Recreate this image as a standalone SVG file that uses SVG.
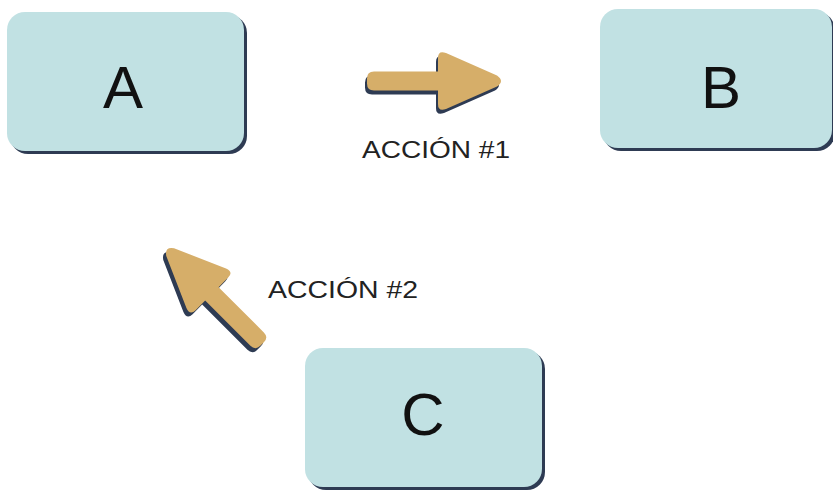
<svg xmlns="http://www.w3.org/2000/svg" width="833" height="492" viewBox="0 0 833 492">
<style>
.box{fill:#c1e1e3}
.sh{fill:#2e3b53}
.lbl{font-family:"Liberation Sans",Arial,sans-serif;font-size:60px;fill:#111;text-anchor:middle}
.act{font-family:"Liberation Sans",Arial,sans-serif;font-size:24px;fill:#222}
.arr{fill:#d6ae69}
.arrsh{fill:#2e3b53}
</style>
<rect width="833" height="492" fill="#fff"/>
<g id="connectors">
<g id="arrow1">
<path class="arrsh" transform="translate(433,85)" d="M-61,-9.5 L3,-9.5 L3,-23 Q3,-31 11,-28 L62,-5.5 Q70,0 62,5.5 L11,28 Q3,31 3,23 L3,9.5 L-61,9.5 Q-68,9.5 -68,2.5 L-68,-2.5 Q-68,-9.5 -61,-9.5 Z"/>
<path class="arr" transform="translate(435,81)" d="M-61,-9.5 L3,-9.5 L3,-23 Q3,-31 11,-28 L62,-5.5 Q70,0 62,5.5 L11,28 Q3,31 3,23 L3,9.5 L-61,9.5 Q-68,9.5 -68,2.5 L-68,-2.5 Q-68,-9.5 -61,-9.5 Z"/>
</g>
<g id="arrow2">
<path class="arrsh" transform="translate(211,300) rotate(-135)" d="M-61,-9.5 L3,-9.5 L3,-23 Q3,-31 11,-28 L62,-5.5 Q70,0 62,5.5 L11,28 Q3,31 3,23 L3,9.5 L-61,9.5 Q-68,9.5 -68,2.5 L-68,-2.5 Q-68,-9.5 -61,-9.5 Z"/>
<path class="arr" transform="translate(214,296) rotate(-135)" d="M-61,-9.5 L3,-9.5 L3,-23 Q3,-31 11,-28 L62,-5.5 Q70,0 62,5.5 L11,28 Q3,31 3,23 L3,9.5 L-61,9.5 Q-68,9.5 -68,2.5 L-68,-2.5 Q-68,-9.5 -61,-9.5 Z"/>
</g>
<text class="act" x="362" y="158" textLength="148" lengthAdjust="spacingAndGlyphs">ACCIÓN #1</text>
<text class="act" x="268" y="298" textLength="150" lengthAdjust="spacingAndGlyphs">ACCIÓN #2</text>
</g>
<g id="nodeA">
<rect class="sh" x="10" y="15" width="237" height="139" rx="18"/>
<rect class="box" x="7" y="12" width="237" height="139" rx="18"/>
<text class="lbl" x="123" y="108">A</text>
</g>
<g id="nodeB">
<rect class="sh" x="603" y="12" width="232" height="139" rx="18"/>
<rect class="box" x="600" y="9" width="232" height="139" rx="18"/>
<text class="lbl" x="721" y="108">B</text>
</g>
<g id="nodeC">
<rect class="sh" x="308" y="351" width="237" height="139" rx="18"/>
<rect class="box" x="305" y="348" width="237" height="139" rx="18"/>
<text class="lbl" x="423" y="435">C</text>
</g>
</svg>
